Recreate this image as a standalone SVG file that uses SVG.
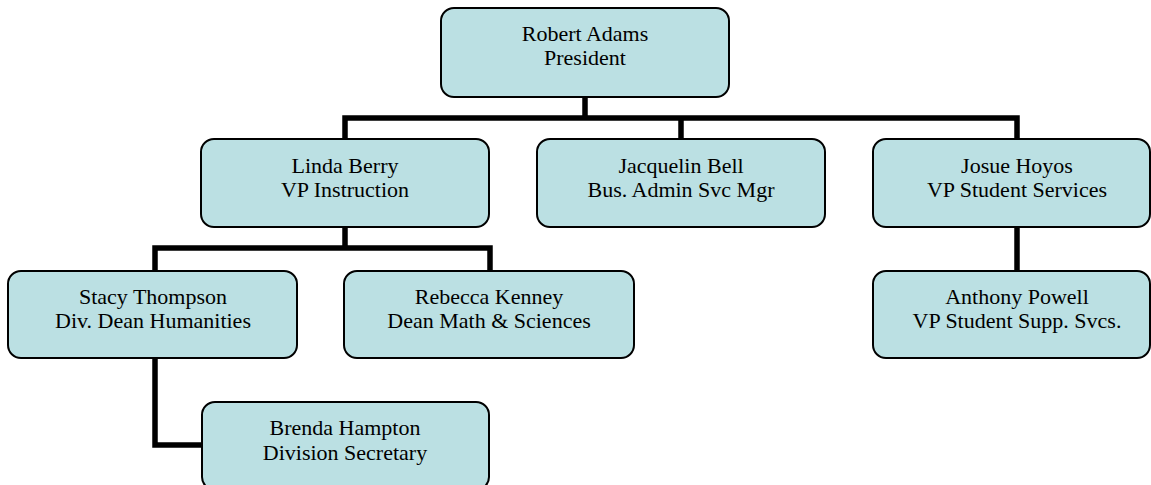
<svg xmlns="http://www.w3.org/2000/svg" width="1151" height="485" viewBox="0 0 1151 485">
<style>
.box{fill:#bbe0e3;stroke:#000;stroke-width:2}
.t{font-family:"Liberation Serif","Times New Roman",serif;font-size:22px;fill:#000;text-anchor:middle}
.c{fill:none;stroke:#000;stroke-width:5.5;stroke-linecap:square}
</style>
<rect width="1151" height="485" fill="#fff"/>
<g id="connectors">
<path class="c" d="M585,97 V118 M345,118 H1017 M345,118 V139 M681,118 V139 M1017,118 V139"/>
<path class="c" d="M345,227 V248 M155,248 H490 M155,248 V271 M490,248 V271"/>
<path class="c" d="M1017,227 V271"/>
<path class="c" d="M155,358 V445 H202"/>
</g>
<g id="n-adams"><rect class="box" x="441" y="8" width="288" height="89" rx="13"/><text class="t" x="585" y="41">Robert Adams</text><text class="t" x="585" y="65">President</text></g>
<g id="n-berry"><rect class="box" x="201" y="139" width="288" height="88" rx="13"/><text class="t" x="345" y="173">Linda Berry</text><text class="t" x="345" y="197">VP Instruction</text></g>
<g id="n-bell"><rect class="box" x="537" y="139" width="288" height="88" rx="13"/><text class="t" x="681" y="173">Jacquelin Bell</text><text class="t" x="681" y="197">Bus. Admin Svc Mgr</text></g>
<g id="n-hoyos"><rect class="box" x="873" y="139" width="277" height="88" rx="13"/><text class="t" x="1017" y="173">Josue Hoyos</text><text class="t" x="1017" y="197">VP Student Services</text></g>
<g id="n-thompson"><rect class="box" x="8" y="271" width="289" height="87" rx="13"/><text class="t" x="153" y="304">Stacy Thompson</text><text class="t" x="153" y="328">Div. Dean Humanities</text></g>
<g id="n-kenney"><rect class="box" x="344" y="271" width="290" height="87" rx="13"/><text class="t" x="489" y="304">Rebecca Kenney</text><text class="t" x="489" y="328">Dean Math &amp; Sciences</text></g>
<g id="n-powell"><rect class="box" x="873" y="271" width="277" height="87" rx="13"/><text class="t" x="1017" y="304">Anthony Powell</text><text class="t" x="1017" y="328">VP Student Supp. Svcs.</text></g>
<g id="n-hampton"><rect class="box" x="202" y="402" width="287" height="88" rx="13"/><text class="t" x="345" y="435">Brenda Hampton</text><text class="t" x="345" y="460">Division Secretary</text></g>
</svg>
